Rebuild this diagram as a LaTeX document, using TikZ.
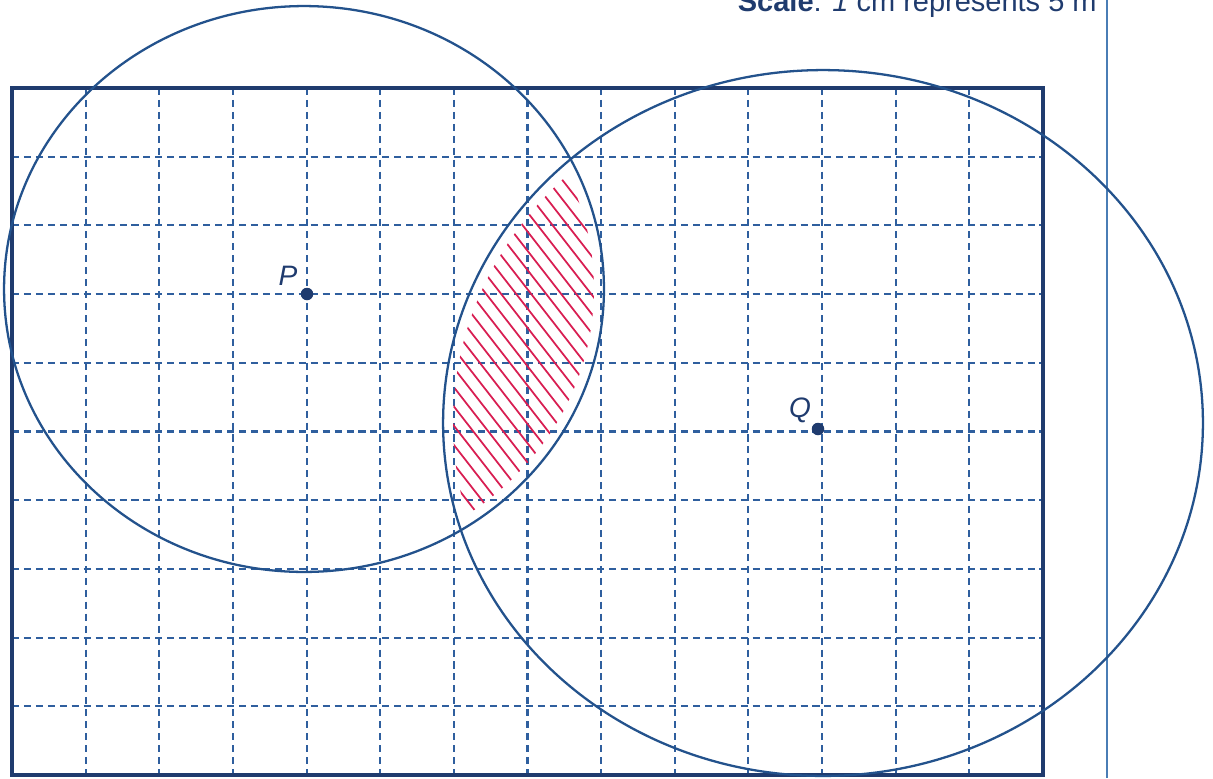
\documentclass[tikz,border=0pt]{standalone}
\usepackage{fontspec}
\setmainfont{Liberation Sans}
\definecolor{navy}{HTML}{1F3B6E}
\definecolor{gridblue}{HTML}{2F5F9E}
\definecolor{circblue}{HTML}{23528C}
\definecolor{edgeblue}{HTML}{4A7DB5}
\definecolor{hatchred}{HTML}{D81E52}
\begin{document}
\begin{tikzpicture}[x=0.02cm,y=-0.02cm,
  frame/.style={draw=navy, line width=1.8pt},
  gridline/.style={draw=gridblue, line width=1.2pt, dash pattern=on 4pt off 2.8pt},
  circ/.style={draw=circblue, line width=1.3pt},
  hatch/.style={draw=hatchred, line width=1pt, line cap=round},
  dot/.style={circle, fill=navy, inner sep=0pt, minimum size=0.25cm},
  lbl/.style={font=\fontsize{16}{16}\selectfont\itshape, text=navy, inner sep=0pt},
  pageedge/.style={draw=edgeblue, line width=0.8pt}]
\useasboundingbox (0,0) rectangle (1213,778);
% scale text (cut at top, as in the reference)
\node[anchor=base east, font=\fontsize{16.5}{16.5}\selectfont, text=navy, inner sep=0pt] (scale) at (1097,11) {\textbf{Scale}: \textit{1} cm represents 5 m};
% page edge line
\coordinate (e1) at (1107,0);
\coordinate (e2) at (1107,778);
\draw[pageedge] (e1) -- (e2);
% grid
\foreach \i in {1,...,13} \draw[gridline] ({12+73.64*\i},88) -- ({12+73.64*\i},775);
\foreach \j in {1,...,9} \draw[gridline] (12,{88+68.7*\j}) -- (1043,{88+68.7*\j});
\draw[frame] (12,88) rectangle (1043,775);
% hatching of the overlap
\begin{scope}
  \clip (304,289) ellipse [x radius=5.8cm, y radius=5.46cm];
  \clip (823,423) ellipse [x radius=7.4cm, y radius=6.86cm];
  \foreach \k in {0,...,30} \draw[hatch] ({95+15*\k},100) -- ++(530,680);
\end{scope}
% circles
\draw[circ] (304,289) ellipse [x radius=6cm, y radius=5.66cm];
\draw[circ] (823,423) ellipse [x radius=7.6cm, y radius=7.06cm];
% points
\node[dot] (P) at (307,294) {};
\node[dot] (Q) at (818,429) {};
\node[lbl] (Plab) at (288,276) {P};
\node[lbl] (Qlab) at (800,410) {Q};
\end{tikzpicture}
\end{document}
